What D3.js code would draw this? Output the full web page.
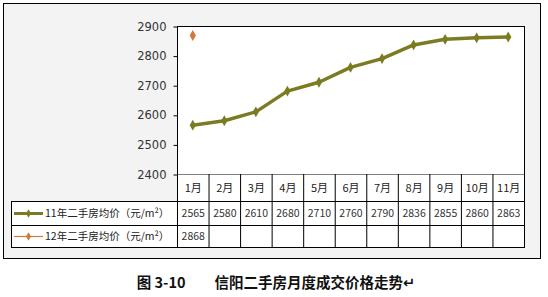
<!DOCTYPE html>
<html>
<head>
<meta charset="utf-8">
<script src="https://cdn.jsdelivr.net/npm/d3@7"></script>
<style>
  body { margin: 0; background: #fff; }
  svg text { font-family: "Noto Sans CJK SC", "DejaVu Sans", sans-serif; }
</style>
</head>
<body>
<svg id="chart" width="548" height="297"></svg>
<script>
const months = ["1月", "2月", "3月", "4月", "5月", "6月", "7月", "8月", "9月", "10月", "11月"];
const price11 = [2565, 2580, 2610, 2680, 2710, 2760, 2790, 2836, 2855, 2860, 2863];
const price12 = [2868];
const seriesNames = ["11年二手房均价（元/m²）", "12年二手房均价（元/m²）"];
const yTicks = [2400, 2500, 2600, 2700, 2800, 2900];
const title = "图 3-10　　信阳二手房月度成交价格走势↵";

const plot = { left: 177, right: 524, top: 26, bottom: 174 };
const rows = [174, 201, 225, 247];
const tableLeft = 11;
const colors = ["#7b7b22", "#d07a3c"];

const svg = d3.select("#chart");

// outer frame
svg.append("rect")
  .attr("x", 3.5).attr("y", 3.5).attr("width", 537).attr("height", 255)
  .attr("fill", "#f3f3f3").attr("stroke", "#000").attr("stroke-width", 1);

const x = d3.scaleBand().domain(months).range([plot.left, plot.right]);
const y = d3.scaleLinear().domain([2400, 2900]).range([plot.bottom, plot.top]);

// plot area
svg.append("rect")
  .attr("x", plot.left + 0.5).attr("y", plot.top + 0.5)
  .attr("width", plot.right - plot.left).attr("height", plot.bottom - plot.top)
  .attr("fill", "#fff").attr("stroke", "#000");

// table background
svg.append("rect")
  .attr("x", tableLeft + 0.5).attr("y", rows[1] + 0.5)
  .attr("width", plot.right - tableLeft).attr("height", rows[3] - rows[1])
  .attr("fill", "#fff");
svg.append("rect")
  .attr("x", plot.left + 0.5).attr("y", rows[0] + 0.5)
  .attr("width", plot.right - plot.left).attr("height", rows[1] - rows[0])
  .attr("fill", "#fff");

// y axis
const yAxis = svg.append("g")
  .attr("transform", `translate(${plot.left + 0.5},0.5)`)
  .call(d3.axisLeft(y).tickValues(yTicks).tickSize(4).tickFormat(d3.format("d")));
yAxis.select(".domain").remove();
yAxis.selectAll("line").attr("stroke", "#000");
yAxis.selectAll("text")
  .attr("x", -11).attr("font-size", 11.5).attr("fill", "#333")
  .style("font-family", "'DejaVu Sans', sans-serif");

// table grid
const table = svg.append("g").attr("stroke", "#000").attr("stroke-width", 1);
x.domain().forEach(m => {
  table.append("line")
    .attr("x1", x(m) + 0.5).attr("x2", x(m) + 0.5)
    .attr("y1", rows[0]).attr("y2", rows[3]);
});
table.append("line")
  .attr("x1", plot.right + 0.5).attr("x2", plot.right + 0.5)
  .attr("y1", rows[0]).attr("y2", rows[3] + 0.5);
table.append("line")
  .attr("x1", tableLeft + 0.5).attr("x2", tableLeft + 0.5)
  .attr("y1", rows[1]).attr("y2", rows[3] + 0.5);
rows.slice(1).forEach(r => {
  table.append("line")
    .attr("x1", tableLeft).attr("x2", plot.right + 1)
    .attr("y1", r + 0.5).attr("y2", r + 0.5);
});

// header cells
svg.append("g").selectAll("text").data(months).join("text")
  .attr("x", d => x(d) + x.bandwidth() / 2 + 0.5)
  .attr("y", (rows[0] + rows[1]) / 2 + 4)
  .attr("text-anchor", "middle").attr("font-size", 11).attr("fill", "#222")
  .text(d => d);

// value cells
[price11, price12].forEach((vals, i) => {
  const cy = (rows[i + 1] + rows[i + 2]) / 2 + 4;
  svg.append("g").selectAll("text").data(vals).join("text")
    .attr("x", (d, j) => x(months[j]) + x.bandwidth() / 2 + 0.5)
    .attr("y", cy)
    .attr("text-anchor", "middle").attr("font-size", 10.5).attr("fill", "#333")
    .text(d => d);

  // legend key
  const lg = svg.append("g");
  lg.append("line")
    .attr("x1", 14).attr("x2", 43).attr("y1", cy - 3.5).attr("y2", cy - 3.5)
    .attr("stroke", colors[i]).attr("stroke-width", i === 0 ? 3 : 1.2);
  lg.append("path")
    .attr("d", d3.symbol(d3.symbolDiamond, 22)())
    .attr("transform", `translate(28.5,${cy - 3.5})`)
    .attr("fill", colors[i]);
  lg.append("text")
    .attr("x", 45).attr("y", cy)
    .attr("font-size", 10.5).attr("fill", "#222")
    .text(seriesNames[i]);
});

// lines and markers
const line = d3.line()
  .x((d, i) => x(months[i]) + x.bandwidth() / 2)
  .y(d => y(d));

[price11, price12].forEach((vals, i) => {
  svg.append("path")
    .datum(vals)
    .attr("d", line)
    .attr("fill", "none")
    .attr("stroke", colors[i])
    .attr("stroke-width", 3.5)
    .attr("stroke-linejoin", "round");
  svg.append("g").selectAll("path").data(vals).join("path")
    .attr("d", d3.symbol(d3.symbolDiamond, 34)())
    .attr("transform", (d, j) => `translate(${x(months[j]) + x.bandwidth() / 2},${y(d)})`)
    .attr("fill", colors[i]);
});

// caption
svg.append("text")
  .attr("x", 276).attr("y", 288)
  .attr("text-anchor", "middle")
  .attr("font-size", 14.5).attr("font-weight", "bold").attr("fill", "#111")
  .text(title);
</script>
</body>
</html>
